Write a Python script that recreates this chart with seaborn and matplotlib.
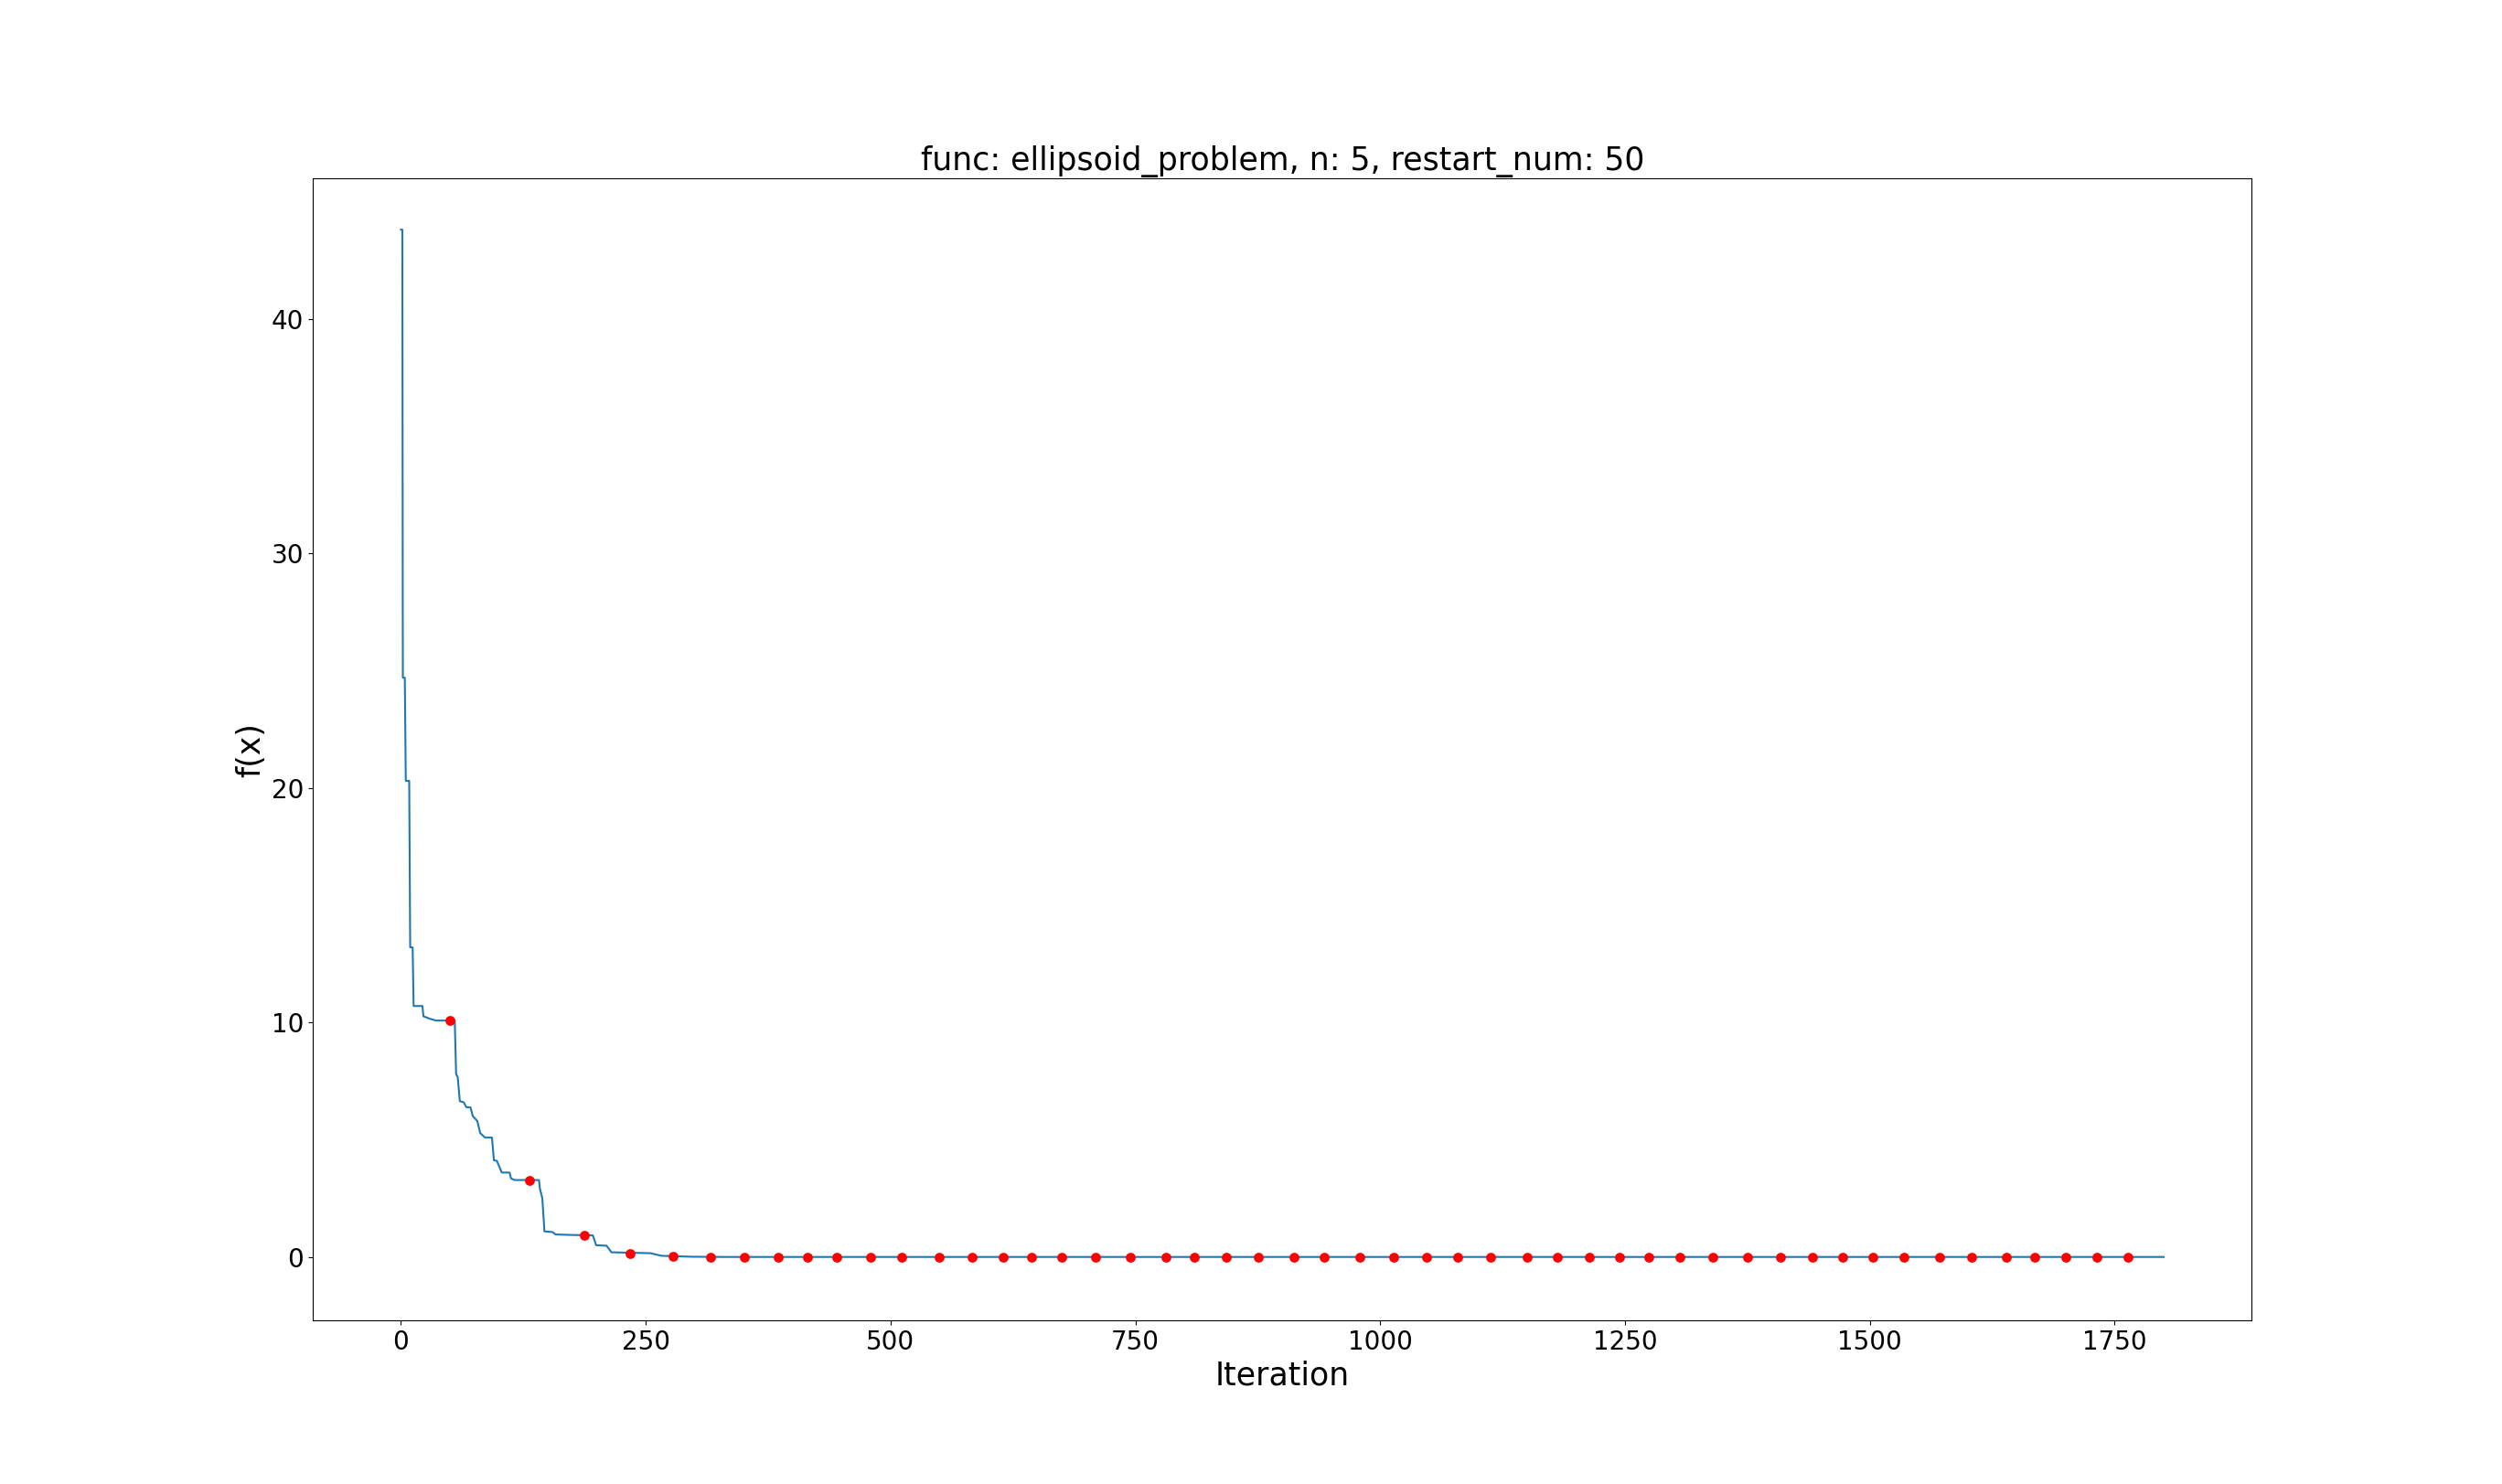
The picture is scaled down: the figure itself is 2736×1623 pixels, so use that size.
import numpy as np
import seaborn as sns
import matplotlib
matplotlib.use('Agg')
import matplotlib.pyplot as plt

# best-so-far curve (breakpoints)
iter_pts = [0, 1.5, 2, 4, 5, 8.5, 9.5, 12, 13, 22, 23, 30, 36, 55, 56.4, 58, 60.2,
            64, 67, 71, 73.5, 78, 81, 86, 93, 95, 98, 103, 111, 112.4, 116, 141,
            142, 144.4, 146.6, 155, 158, 173, 196, 199.4, 210, 215, 255, 266,
            297, 330, 1800]
fx_pts = [43.8, 43.8, 24.7, 24.7, 20.3, 20.3, 13.2, 13.2, 10.7, 10.7, 10.26, 10.15,
          10.08, 10.08, 7.8, 7.67, 6.64, 6.6, 6.38, 6.38, 6.0, 5.8, 5.28, 5.09,
          5.09, 4.12, 4.1, 3.6, 3.6, 3.35, 3.28, 3.28, 2.9, 2.51, 1.09, 1.06,
          0.96, 0.94, 0.92, 0.5, 0.48, 0.2, 0.16, 0.05, 0.01, 0.0, 0.0]

# restart points
restart_iters = [50, 131, 187, 234, 278, 316, 351, 385, 415, 445, 480, 511, 550,
                 583, 615, 644, 675, 709, 745, 781, 810, 843, 876, 912, 943, 979,
                 1014, 1047, 1079, 1113, 1150, 1181, 1214, 1244, 1274, 1306, 1340,
                 1375, 1409, 1441, 1472, 1503, 1535, 1571, 1604, 1639, 1668, 1700,
                 1732, 1764]
restart_fx = [10.08, 3.28, 0.92, 0.14, 0.04, 0.0] + [0.0] * 44

fig, ax = plt.subplots(figsize=(27.36, 16.23), dpi=100)

sns.lineplot(x=iter_pts, y=fx_pts, estimator=None, sort=False, color='#1f77b4',
             linewidth=1.5, ax=ax)
sns.scatterplot(x=restart_iters, y=restart_fx, color='red', s=60, linewidth=0,
                zorder=3, ax=ax)

ax.set_ylim(-2.72, 46.0)
ax.set_title('func: ellipsoid_problem, n: 5, restart_num: 50', fontsize=25)
ax.set_xlabel('Iteration', fontsize=25)
ax.set_ylabel('f(x)', fontsize=25)
ax.tick_params(labelsize=20)

fig.savefig('out.png', dpi=100)
